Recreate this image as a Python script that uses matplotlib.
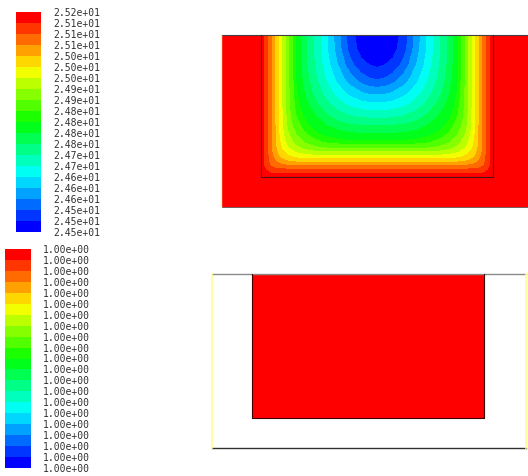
import numpy as np
import matplotlib
matplotlib.use("Agg")
import matplotlib.pyplot as plt
from matplotlib.colors import ListedColormap, BoundaryNorm, hsv_to_rgb

# contour levels of static temperature (2.45e+01 .. 2.52e+01)
temp_levels = [24.47, 24.505, 24.54, 24.575, 24.61, 24.645, 24.68, 24.715, 24.752, 24.785,
               24.82, 24.849, 24.89, 24.925, 24.96, 24.995, 25.03, 25.065, 25.10, 25.135, 25.17]
# volume fraction levels: all print as 1.00e+00
vf_levels = np.linspace(0.99996, 1.000001, 21)

# geometry (mm): outer block and the open cavity cut into its top face
block_w, block_h = 31.4, 17.3
cav_x0, cav_w, cav_depth = 4.0, 23.2, 14.3
solid_temp = 25.161
liquid_vf = 1.0

# left half of the cavity temperature field, symmetric about the centre line
x_half = [0.0, 0.2, 0.5, 0.9, 1.4, 2.0, 2.7, 3.5, 4.4, 5.4, 6.5, 7.7, 8.9, 10.0, 10.8, 11.6]
depth = [0.0, 1.5, 3.0, 4.5, 5.8, 7.0, 8.1, 9.1, 10.0, 10.8, 11.5, 12.1, 12.7, 13.2, 13.6, 13.95, 14.3]
temp_half = np.array([
    [25.161, 25.140, 25.119, 25.077, 25.030, 24.969, 24.898, 24.812, 24.757, 24.705, 24.650, 24.587, 24.517, 24.488, 24.480, 24.477],
    [25.161, 25.140, 25.119, 25.077, 25.030, 24.969, 24.898, 24.812, 24.758, 24.706, 24.652, 24.592, 24.527, 24.493, 24.484, 24.482],
    [25.161, 25.140, 25.119, 25.077, 25.030, 24.969, 24.898, 24.814, 24.762, 24.712, 24.662, 24.608, 24.552, 24.515, 24.505, 24.497],
    [25.161, 25.140, 25.119, 25.077, 25.030, 24.969, 24.899, 24.818, 24.769, 24.723, 24.678, 24.634, 24.592, 24.560, 24.545, 24.540],
    [25.161, 25.140, 25.119, 25.077, 25.030, 24.969, 24.900, 24.825, 24.782, 24.740, 24.700, 24.663, 24.632, 24.612, 24.602, 24.600],
    [25.161, 25.140, 25.119, 25.077, 25.030, 24.969, 24.902, 24.835, 24.796, 24.762, 24.726, 24.695, 24.672, 24.659, 24.655, 24.654],
    [25.161, 25.140, 25.119, 25.077, 25.030, 24.970, 24.907, 24.849, 24.812, 24.785, 24.757, 24.731, 24.713, 24.704, 24.702, 24.702],
    [25.161, 25.140, 25.119, 25.077, 25.030, 24.972, 24.916, 24.866, 24.830, 24.805, 24.786, 24.768, 24.757, 24.753, 24.752, 24.752],
    [25.161, 25.140, 25.119, 25.077, 25.031, 24.977, 24.929, 24.891, 24.853, 24.828, 24.811, 24.798, 24.792, 24.789, 24.789, 24.789],
    [25.161, 25.140, 25.119, 25.077, 25.033, 24.987, 24.946, 24.912, 24.886, 24.861, 24.844, 24.834, 24.829, 24.827, 24.827, 24.827],
    [25.161, 25.140, 25.119, 25.078, 25.038, 25.000, 24.967, 24.941, 24.922, 24.908, 24.901, 24.899, 24.898, 24.898, 24.898, 24.898],
    [25.161, 25.140, 25.119, 25.081, 25.048, 25.016, 24.993, 24.975, 24.965, 24.961, 24.960, 24.960, 24.960, 24.960, 24.960, 24.960],
    [25.161, 25.140, 25.121, 25.089, 25.066, 25.043, 25.030, 25.022, 25.019, 25.018, 25.018, 25.018, 25.018, 25.018, 25.018, 25.018],
    [25.161, 25.140, 25.125, 25.103, 25.086, 25.077, 25.074, 25.073, 25.072, 25.072, 25.072, 25.072, 25.072, 25.072, 25.072, 25.072],
    [25.161, 25.141, 25.135, 25.119, 25.113, 25.111, 25.111, 25.111, 25.111, 25.111, 25.111, 25.111, 25.111, 25.111, 25.111, 25.111],
    [25.161, 25.143, 25.140, 25.139, 25.138, 25.138, 25.138, 25.138, 25.138, 25.138, 25.138, 25.138, 25.138, 25.138, 25.138, 25.138],
    [25.161, 25.161, 25.161, 25.161, 25.161, 25.161, 25.161, 25.161, 25.161, 25.161, 25.161, 25.161, 25.161, 25.161, 25.161, 25.161],
])

# Fluent-style banded rainbow, blue -> red
hues = np.linspace(240, 0, 20) / 360.0
band_colors = hsv_to_rgb(np.column_stack([hues, np.ones(20), np.ones(20)]))
cmap = ListedColormap(band_colors)

# mirror the half field across the cavity centre
xh = np.array(x_half)
x_full = cav_x0 + np.concatenate([xh, cav_w - xh[-2::-1]])
y_full = block_h - np.array(depth)
temp_full = np.hstack([temp_half, temp_half[:, -2::-1]])

W, H = 528, 476
fig = plt.figure(figsize=(W / 100, H / 100), dpi=100)


def px_axes(x0, y0, x1, y1):
    return fig.add_axes([x0 / W, 1 - y1 / H, (x1 - x0) / W, (y1 - y0) / H])


label_font = dict(family="DejaVu Sans Mono", size=7, color="#303030")
cav_top = block_h
cav_bot = block_h - cav_depth
cav_x1 = cav_x0 + cav_w

# ---- temperature contours ----
ax1 = px_axes(221, 35, 535, 207)
temp_norm = BoundaryNorm(temp_levels, 20)
ax1.pcolormesh([0, block_w], [0, block_h], [[solid_temp]], cmap=cmap, norm=temp_norm)
cs = ax1.contourf(x_full, y_full, temp_full, levels=temp_levels, colors=band_colors)
ax1.plot([0, block_w], [block_h, block_h], color="#404040", lw=0.8, clip_on=False)
ax1.plot([0, block_w], [0, 0], color="#604040", lw=0.6, clip_on=False)
ax1.plot([0, 0], [0, block_h], color="#fff3a0", lw=1.0, clip_on=False)
ax1.plot([cav_x0, cav_x0, cav_x1, cav_x1], [cav_top, cav_bot, cav_bot, cav_top],
         color="#4a1515", lw=0.8)
ax1.set_xlim(0, block_w)
ax1.set_ylim(0, block_h)
ax1.axis("off")

cax1 = px_axes(16, 12, 41, 232)
cb1 = fig.colorbar(cs, cax=cax1, ticks=temp_levels)
cb1.outline.set_visible(False)
cax1.tick_params(length=0, pad=8.6)
cax1.set_yticklabels(["%.2e" % v for v in temp_levels], **label_font)

# ---- volume fraction ----
ax2 = px_axes(212, 274, 526, 448)
vf_norm = BoundaryNorm(vf_levels, 20)
vf = np.ma.masked_invalid([[np.nan, np.nan, np.nan], [np.nan, liquid_vf, np.nan]])
mesh = ax2.pcolormesh([0, cav_x0, cav_x1, block_w], [0, cav_bot, block_h], vf,
                      cmap=cmap, norm=vf_norm)
ax2.plot([0, block_w], [block_h, block_h], color="#8a8a8a", lw=1.0, clip_on=False)
ax2.plot([0, block_w], [0, 0], color="#303030", lw=1.0, clip_on=False)
ax2.plot([0, 0], [0, block_h], color="#ffff90", lw=1.2, clip_on=False)
ax2.plot([block_w, block_w], [0, block_h], color="#ffff90", lw=1.2, clip_on=False)
ax2.plot([cav_x0, cav_x0, cav_x1, cav_x1], [cav_top, cav_bot, cav_bot, cav_top],
         color="#400000", lw=0.8)
ax2.set_xlim(0, block_w)
ax2.set_ylim(0, block_h)
ax2.axis("off")

cax2 = px_axes(5, 249, 31, 468)
cb2 = fig.colorbar(mesh, cax=cax2, ticks=vf_levels)
cb2.outline.set_visible(False)
cax2.tick_params(length=0, pad=8.6)
cax2.set_yticklabels(["%.2e" % v for v in vf_levels], **label_font)

fig.savefig("out.png", dpi=100)
